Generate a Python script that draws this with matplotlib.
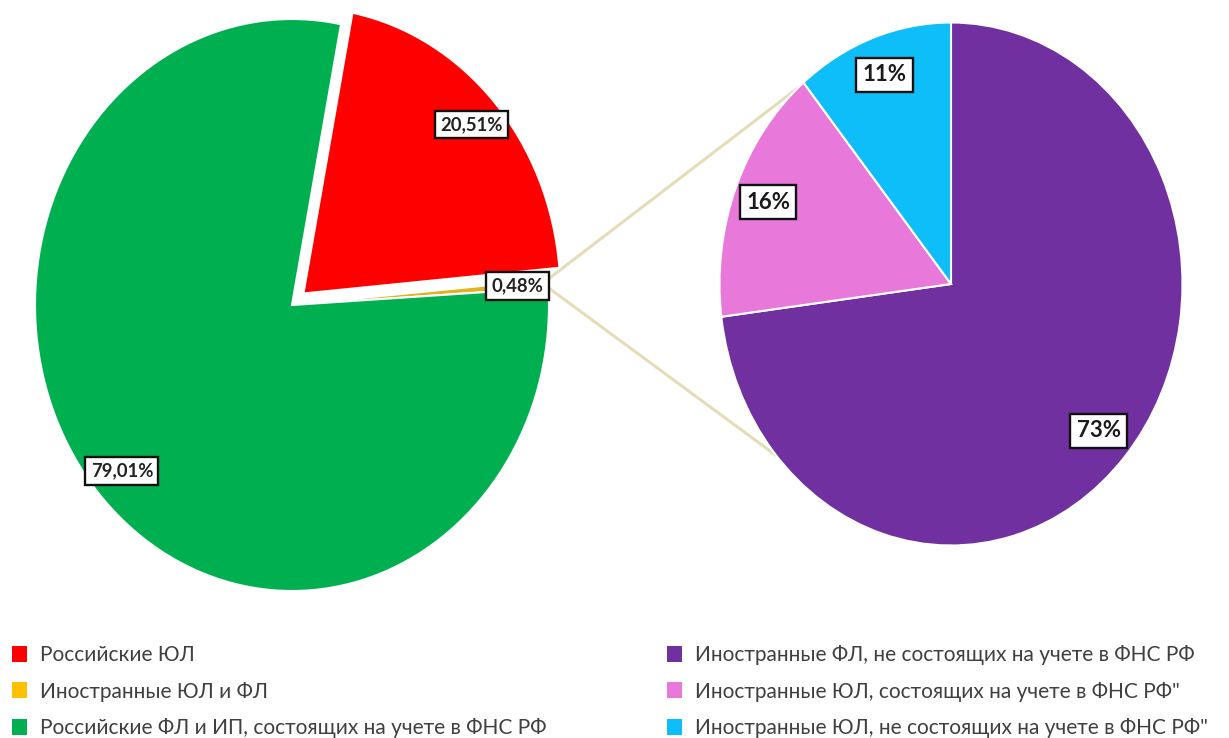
import matplotlib
matplotlib.use("Agg")
import matplotlib.pyplot as plt
from matplotlib.patches import ConnectionPatch, Patch
import numpy as np

# ---- data ----
left_labels = ["Российские ЮЛ", "Иностранные ЮЛ и ФЛ",
               "Российские ФЛ и ИП, состоящих на учете в ФНС РФ"]
left_values = [20.51, 0.48, 79.01]
left_colors = ["#FF0000", "#E0B21C", "#00B050"]
left_legend_colors = ["#FF0000", "#FFC000", "#00B050"]

right_labels = ["Иностранные ФЛ, не состоящих на учете в ФНС РФ",
                "Иностранные ЮЛ, состоящих на учете в ФНС РФ\"",
                "Иностранные ЮЛ, не состоящих на учете в ФНС РФ\""]
right_values = [73, 16, 11]
right_colors = ["#7030A0", "#E879DB", "#0DBEF9"]

plt.rcParams['font.family'] = ['Lato', 'DejaVu Sans']

W, H = 1229, 738
fig = plt.figure(figsize=(W / 100, H / 100), dpi=100)

def make_ax(cx, cy, rx, ry, lim=1.2):
    w = 2 * lim * rx
    h = 2 * lim * ry
    left = (cx - w / 2) / W
    bottom = (H - cy - h / 2) / H
    return fig.add_axes([left, bottom, w / W, h / H])

axL = make_ax(292, 305, 257, 286)
axR = make_ax(951, 284, 231.5, 261.5)

box = dict(boxstyle="square,pad=0.28", fc="white", ec="#111111", lw=1.7)
wp = dict(edgecolor="white", linewidth=1.5)

def fmt_left(p):
    return f"{p:.2f}%".replace(".", ",")

def fmt_right(p):
    return f"{p:.0f}%"

start_left = 90 - 11
wL, tL, aL = axL.pie(left_values, colors=left_colors, startangle=start_left,
                     counterclock=False, explode=[0.06, 0, 0],
                     autopct=fmt_left, pctdistance=0.88, wedgeprops=wp,
                     textprops=dict(fontsize=13.3, fontweight="bold", color="#222222"))
wR, tR, aR = axR.pie(right_values, colors=right_colors, startangle=90,
                     counterclock=False, autopct=fmt_right, pctdistance=0.85,
                     wedgeprops=wp,
                     textprops=dict(fontsize=16, fontweight="bold", color="#1a1a1a"))
for t in list(aL) + list(aR):
    t.set_bbox(box)

for ax in (axL, axR):
    ax.set_aspect("auto")
    ax.set_xlim(-1.2, 1.2)
    ax.set_ylim(-1.2, 1.2)
    ax.axis("off")

# connector lines from the small slice to the secondary pie
th1 = np.deg2rad(wL[1].theta1)
th2 = np.deg2rad(wL[1].theta2)
pA1 = (np.cos(th2), np.sin(th2))
pA2 = (np.cos(th1), np.sin(th1))
a_up = np.deg2rad(90 - 318.5)
a_dn = np.deg2rad(90 - 229)
pB1 = (np.cos(a_up), np.sin(a_up))
pB2 = (np.cos(a_dn), np.sin(a_dn))
for pa, pb in ((pA1, pB1), (pA2, pB2)):
    con = ConnectionPatch(xyA=pa, coordsA=axL.transData, xyB=pb, coordsB=axR.transData,
                          color="#E6DDB8", lw=2.2, zorder=0)
    fig.add_artist(con)

# legends
legkw = dict(frameon=False, fontsize=15, handlelength=0.7, handleheight=0.8,
             handletextpad=0.65, labelspacing=0.8, borderaxespad=0, borderpad=0,
             labelcolor="#404040")
hL = [Patch(facecolor=c) for c in left_legend_colors]
hR = [Patch(facecolor=c) for c in right_colors]
fig.legend(hL, left_labels, loc="upper left", bbox_to_anchor=(12 / W, 1 - 645 / H), **legkw)
fig.legend(hR, right_labels, loc="upper left", bbox_to_anchor=(667 / W, 1 - 645 / H), **legkw)

fig.savefig("out.png", dpi=100, facecolor="white")
